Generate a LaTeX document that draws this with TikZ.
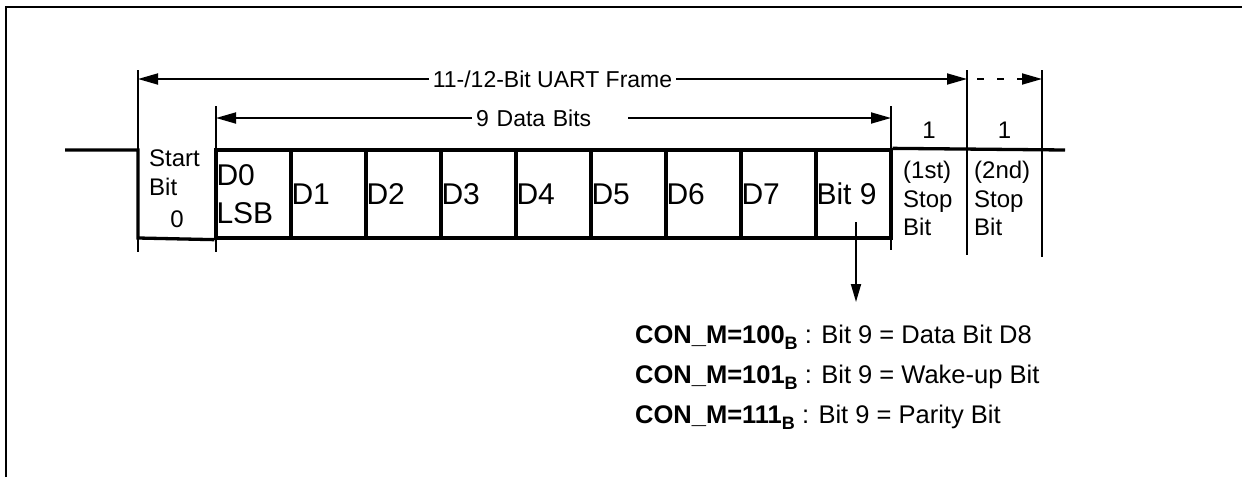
\documentclass[tikz,border=0pt]{standalone}
\usepackage{fontspec}
\setmainfont{Liberation Sans}
\usetikzlibrary{arrows.meta, positioning, calc}
\newcommand{\regsub}[1]{\raisebox{-6pt}{\fontsize{18}{18}\selectfont\bfseries #1}}
\tikzset{
  frameline/.style={line width=1.5pt},
  sig/.style={line width=3.3pt},
  ext/.style={line width=1.8pt},
  cell/.style={rectangle, draw, line width=3.3pt, minimum width=75pt,
    minimum height=88pt, inner sep=0pt},
  bitlbl/.style={anchor=west, inner sep=1pt, align=left,
    font=\fontsize{30}{38}\selectfont},
  smalllbl/.style={inner sep=0pt, align=left,
    font=\fontsize{24}{28.5}\selectfont},
  toplbl/.style={fill=white, inner sep=4pt,
    font=\fontsize{23}{27}\selectfont},
  note/.style={anchor=base west, inner sep=0pt,
    font=\fontsize{25.5}{30}\selectfont},
  dim/.style={ext, >={Triangle[length=20pt,width=11pt]}},
  tap/.style={ext, -{Triangle[length=18pt,width=10pt]}},
}

\begin{document}
\begin{tikzpicture}[x=1pt, y=-1pt]
  \useasboundingbox (0,0) rectangle (1242,477);

  % --- frame ---
  \draw[frameline] (6,477) -- (6,7) -- (1242,7);

  % --- data bit cells ---
  \foreach \lbl [count=\i from 0] in {{D0\\LSB}, D1, D2, D3, D4, D5, D6, D7, Bit 9} {
    \node[cell] (c\i) at (253.5+75*\i, 194) {};
    \node[bitlbl] (l\i) at ([xshift=1pt]c\i.west) {\lbl};
  }

  % --- start bit ---
  \coordinate (idle) at (65,150);
  \coordinate (fall) at (138,150);
  \coordinate (low) at (138,238);
  \draw[sig] (idle) -- (fall) -- (low) -- (c0.south west);
  \node[smalllbl, anchor=north west] (startlbl) at (149,150) {Start\\Bit};
  \node[smalllbl] (startval) at (177,219) {0};

  % --- stop bits ---
  \coordinate (idleend) at (1065,150);
  \draw[sig] (c8.north east) -- (idleend);
  \node[smalllbl, anchor=north west] (stop1) at (903,161) {(1st)\\Stop\\Bit};
  \node[smalllbl, anchor=north west] (stop2) at (974,161) {(2nd)\\Stop\\Bit};
  \node[smalllbl] (one1) at (929,130) {1};
  \node[smalllbl] (one2) at (1004.5,130) {1};

  % --- extension lines ---
  \foreach \x/\ya/\yb in {138/70/252, 216/106/252, 891/106/250, 967/70/255, 1042/70/257}
    \draw[ext] (\x,\ya) -- (\x,\yb);

  % --- frame and data widths ---
  \coordinate (fr0) at (138,79);
  \coordinate (fr1) at (967,79);
  \coordinate (fr2) at (1042,79);
  \draw[dim, <->] (fr0) -- (fr1) node[midway, toplbl] (framelbl) {11-/12-Bit UART Frame};
  \draw[dim, ->, dash pattern=on 7pt off 13pt, dash phase=10pt] (fr1) -- (fr2);

  \coordinate (db0) at (216,118);
  \coordinate (db1) at (891,118);
  \draw[dim, <->] (db0) -- (db1);
  \node[toplbl, anchor=west, text width=148pt, align=left] (datalbl) at (472,118) {9 Data Bits};

  % --- meaning of bit 9 ---
  \coordinate (tap) at (856,222);
  \coordinate (tapend) at (856,302);
  \draw[tap] (tap) -- (tapend);
  \node[note] (m100) at (635,343) {\textbf{CON\_M=100}\regsub{B} : Bit 9 = Data Bit D8};
  \node[note] (m101) at (635,383) {\textbf{CON\_M=101}\regsub{B} : Bit 9 = Wake-up Bit};
  \node[note] (m111) at (635,423) {\textbf{CON\_M=111}\regsub{B} : Bit 9 = Parity Bit};

\end{tikzpicture}
\end{document}
